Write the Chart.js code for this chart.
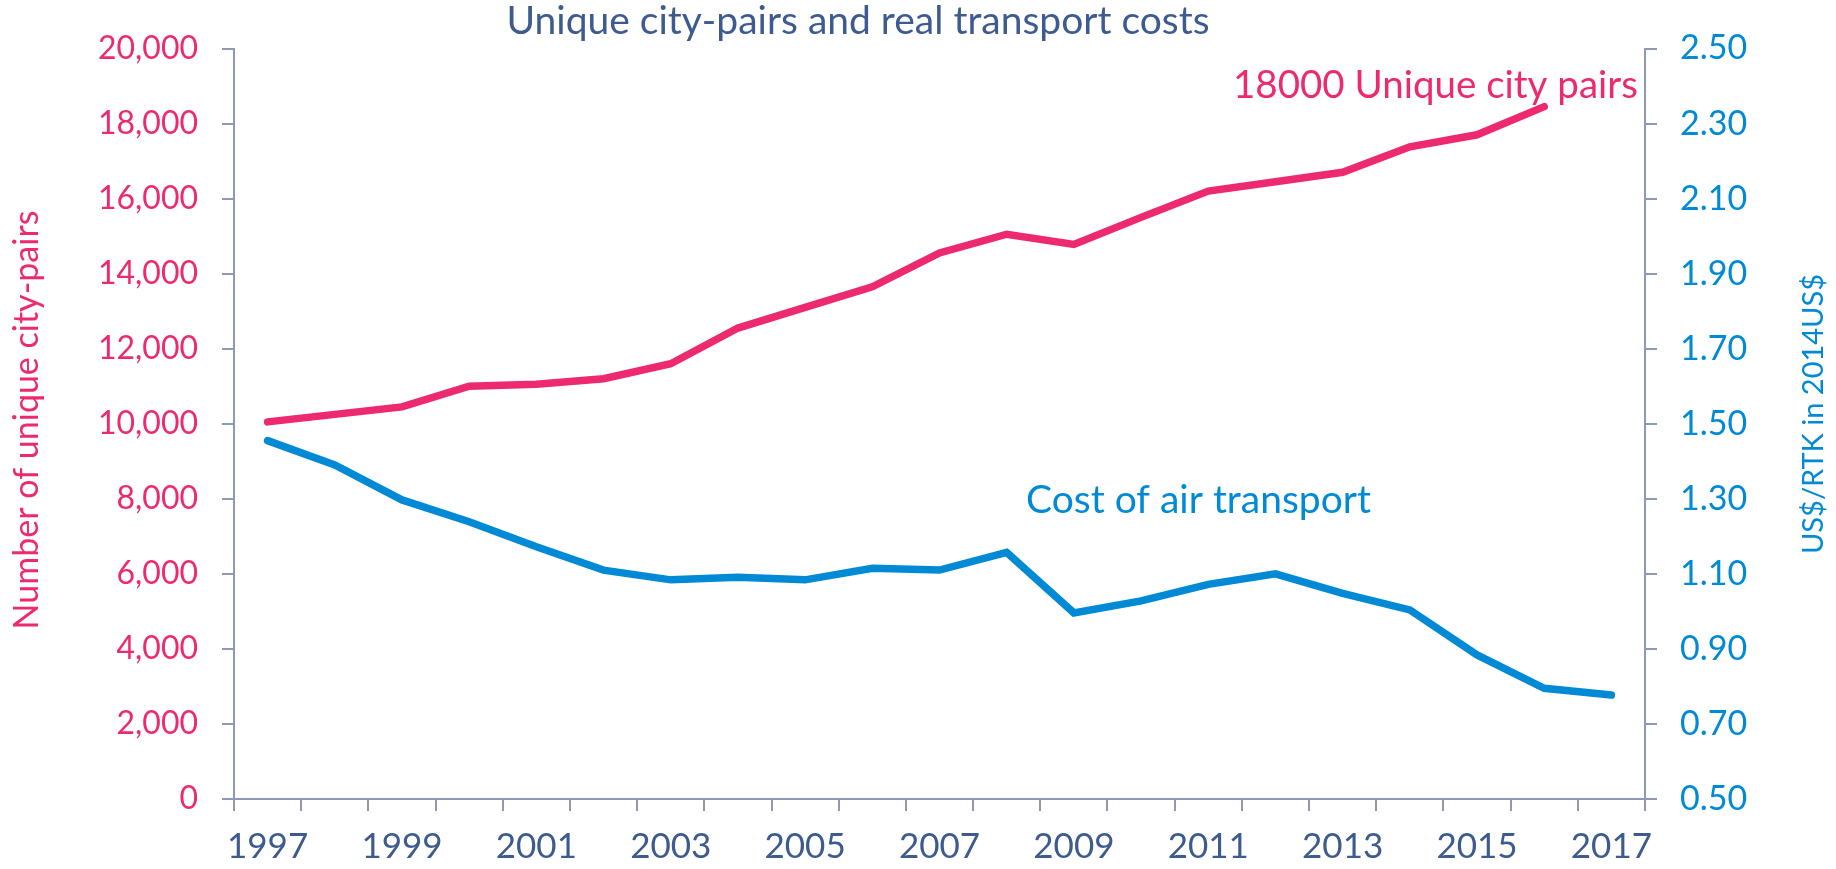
<!DOCTYPE html>
<html>
<head>
<meta charset="utf-8">
<script src="https://cdn.jsdelivr.net/npm/chart.js@4/dist/chart.umd.min.js"></script>
<style>
  body { margin: 0; background: #fff; }
  #wrap { width: 1836px; height: 869px; position: relative; }
</style>
</head>
<body>
<div id="wrap"><canvas id="pairsChart"></canvas></div>
<script>

/******************************************************************
DATA
******************************************************************/

var years = ['1997', '1998', '1999', '2000', '2001', '2002', '2003', '2004', '2005', '2006', '2007',
             '2008', '2009', '2010', '2011', '2012', '2013', '2014', '2015', '2016', '2017'];

// unique city-pairs (left axis), no value for 2017
var cityPairs = [10050, 10250, 10450, 11000, 11050, 11200, 11600, 12550, 13100, 13650, 14550,
                 15050, 14780, 15500, 16200, 16450, 16700, 17380, 17700, 18450];

// US$/RTK in 2014 US$ (right axis)
var transportCost = [1.455, 1.390, 1.297, 1.239, 1.172, 1.110, 1.084, 1.091, 1.084, 1.115, 1.110,
                     1.157, 0.996, 1.028, 1.072, 1.100, 1.048, 1.004, 0.884, 0.795, 0.777];

var leftRange = [0, 20000, 2000];
var rightRange = [0.5, 2.5, 0.2];

var chartTitle = 'Unique city-pairs and real transport costs';
var leftTitle = 'Number of unique city-pairs';
var rightTitle = 'US$/RTK in 2014US$';
var pairsNote = '18000 Unique city pairs';
var costNote = 'Cost of air transport';

var PINK = '#ED296F';
var BLUE = '#008AD6';
var NAVY = '#3D5B8E';
var AXIS = '#8C9AB5';


/******************************************************************
TEXT PLUGIN (title, axis titles, line notes)
******************************************************************/

var textPlugin = {
  id: 'chartText',
  afterDraw: function (chart) {
    var ctx = chart.ctx;
    ctx.save();

    ctx.fillStyle = NAVY;
    ctx.font = '39px Lato';
    ctx.textAlign = 'center';
    ctx.textBaseline = 'alphabetic';
    ctx.fillText(chartTitle, 858, 34);

    ctx.textAlign = 'left';
    ctx.font = '38.5px Lato';
    ctx.fillStyle = PINK;
    ctx.fillText(pairsNote, 1233, 98);

    ctx.font = '39px Lato';
    ctx.fillStyle = BLUE;
    ctx.fillText(costNote, 1026, 513);

    ctx.textAlign = 'center';
    ctx.textBaseline = 'middle';

    ctx.save();
    ctx.translate(27, 420);
    ctx.rotate(-Math.PI / 2);
    ctx.font = '34px Lato';
    ctx.fillStyle = PINK;
    ctx.fillText(leftTitle, 0, 0);
    ctx.restore();

    ctx.save();
    ctx.translate(1814, 414);
    ctx.rotate(-Math.PI / 2);
    ctx.font = '29px Lato';
    ctx.fillStyle = BLUE;
    ctx.fillText(rightTitle, 0, 0);
    ctx.restore();

    ctx.restore();
  }
};


/******************************************************************
CHART
******************************************************************/

var ctx = document.getElementById('pairsChart').getContext('2d');
var chart = new Chart(ctx, {
  type: 'line',
  data: {
    labels: years,
    datasets: [{
      label: 'Unique city-pairs',
      data: cityPairs,
      yAxisID: 'yLeft',
      borderColor: PINK,
      borderWidth: 7.5,
      borderCapStyle: 'round',
      pointRadius: 0,
      tension: 0
    }, {
      label: 'Cost of air transport',
      data: transportCost,
      yAxisID: 'yRight',
      borderColor: BLUE,
      borderWidth: 7.5,
      borderCapStyle: 'round',
      pointRadius: 0,
      tension: 0
    }]
  },
  options: {
    responsive: true,
    maintainAspectRatio: false,
    animation: false,
    layout: { padding: { top: 48.5, left: 0, right: 0, bottom: 0 } },
    plugins: {
      legend: { display: false },
      title: { display: false },
      tooltip: { enabled: false }
    },
    scales: {
      x: {
        type: 'category',
        offset: true,
        afterFit: function (scale) { scale.height = 70; },
        grid: { offset: true, drawOnChartArea: false, drawTicks: true, tickLength: 12, color: AXIS, lineWidth: 2 },
        border: { display: true, color: AXIS, width: 2 },
        ticks: {
          autoSkip: false,
          maxRotation: 0,
          padding: 15,
          color: NAVY,
          font: { family: 'Lato', size: 35 },
          callback: function (val, i) { return i % 2 === 0 ? years[i] : ''; }
        }
      },
      yLeft: {
        position: 'left',
        min: leftRange[0],
        max: leftRange[1],
        afterFit: function (scale) { scale.width = 234; },
        grid: { drawOnChartArea: false, drawTicks: true, tickLength: 12, color: AXIS, lineWidth: 2 },
        border: { display: true, color: AXIS, width: 2 },
        ticks: {
          stepSize: leftRange[2],
          padding: 24,
          color: PINK,
          font: { family: 'Lato', size: 32 },
          callback: function (v) { return v.toLocaleString('en-US'); }
        }
      },
      yRight: {
        position: 'right',
        min: rightRange[0],
        max: rightRange[1],
        afterFit: function (scale) { scale.width = 191; },
        grid: { drawOnChartArea: false, drawTicks: true, tickLength: 12, color: AXIS, lineWidth: 2 },
        border: { display: true, color: AXIS, width: 2 },
        ticks: {
          stepSize: rightRange[2],
          padding: 23,
          color: BLUE,
          font: { family: 'Lato', size: 34 },
          callback: function (v) { return v.toFixed(2); }
        }
      }
    }
  },
  plugins: [textPlugin]
});

</script>
</body>
</html>
